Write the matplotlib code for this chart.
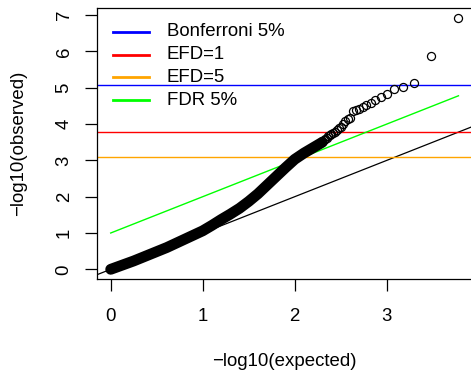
import matplotlib
matplotlib.use('Agg')
import matplotlib.pyplot as plt
from matplotlib.lines import Line2D

plt.rcParams['font.family'] = ['Liberation Sans', 'DejaVu Sans']

# Upper tail: individually visible points, -log10(expected) vs -log10(observed)
tail_expected = [3.778, 3.477, 3.301, 3.176, 3.079, 3.000, 2.933, 2.875, 2.824, 2.778,
                 2.737, 2.699, 2.664, 2.632, 2.602, 2.574, 2.548, 2.523, 2.500, 2.477,
                 2.456, 2.436, 2.417, 2.398, 2.380, 2.363, 2.347, 2.331, 2.316, 2.301]
tail_observed = [6.91, 5.88, 5.12, 5.01, 4.96, 4.83, 4.74, 4.66, 4.59, 4.53,
                 4.46, 4.41, 4.38, 4.35, 4.17, 4.14, 4.08, 3.99, 3.93, 3.88,
                 3.83, 3.79, 3.76, 3.73, 3.70, 3.66, 3.63, 3.60, 3.57, 3.54]

# Dense bulk of overlapping points, traced as a band
bulk_expected = [2.30, 2.20, 2.10, 2.00, 1.90, 1.80, 1.70, 1.60, 1.50, 1.40, 1.30,
                 1.20, 1.10, 1.00, 0.61, 0.25, 0.00]
bulk_observed = [3.50, 3.35, 3.20, 3.03, 2.80, 2.56, 2.32, 2.08, 1.87, 1.68, 1.52,
                 1.37, 1.21, 1.06, 0.60, 0.23, 0.00]

# Threshold lines
threshold_labels = ['Bonferroni 5%', 'EFD=1', 'EFD=5']
threshold_values = [5.08, 3.78, 3.08]
threshold_colors = ['blue', 'red', '#FFA500']

# FDR 5% line segment
fdr_x = [0.0, 3.78]
fdr_y = [1.0, 4.78]
fdr_label = 'FDR 5%'
fdr_color = '#00FF00'

x_ticks = [0, 1, 2, 3]
y_ticks = [0, 1, 2, 3, 4, 5, 6, 7]

W, H = 471, 371
fig = plt.figure(figsize=(W / 100, H / 100), dpi=100)
L, R, T, B = 97, 472, 8, 279
ax = fig.add_axes([L / W, (H - B) / H, (R - L) / W, (B - T) / H])
ax.set_xlim(-0.1489, 3.927)
ax.set_ylim(-0.267, 7.198)

FS = 13.4

# identity line
ax.plot([-1, 5], [-1, 5], color='black', lw=0.9, zorder=2)
# thresholds
for v, c in zip(threshold_values, threshold_colors):
    ax.axhline(v, color=c, lw=1.0, zorder=2)
ax.plot(fdr_x, fdr_y, color=fdr_color, lw=1.0, zorder=2)

# dense band of points
ax.plot(bulk_expected, bulk_observed, color='black', lw=7.8,
        solid_capstyle='round', solid_joinstyle='round', zorder=3)
# individual points
ax.plot(tail_expected, tail_observed, linestyle='none', marker='o', ms=5.8,
        mfc='none', mec='black', mew=0.9, zorder=4)

ax.set_xticks(x_ticks)
ax.set_yticks(y_ticks)
ax.set_xticklabels([str(t) for t in x_ticks])
ax.set_yticklabels([str(t) for t in y_ticks], rotation=90, va='center')
ax.tick_params(axis='both', direction='out', length=8.5, width=0.9, labelsize=FS)
ax.tick_params(axis='x', pad=12.5)
ax.tick_params(axis='y', pad=9)
for s in ax.spines.values():
    s.set_linewidth(0.9)

fig.text(284.5 / W, 1 - 361.5 / H, '\u2212log10(expected)', ha='center', va='center', fontsize=FS)
fig.text(18.5 / W, 1 - 143.5 / H, '\u2212log10(observed)', ha='center', va='center',
         rotation=90, fontsize=FS)

# legend (no box)
leg_labels = threshold_labels + [fdr_label]
leg_colors = threshold_colors + [fdr_color]
rows = [31.7, 54.5, 77.3, 100.1]
for lab, col, yy in zip(leg_labels, leg_colors, rows):
    fig.add_artist(Line2D([113 / W, 149 / W], [1 - yy / H, 1 - yy / H], color=col, lw=2.0))
    fig.text(167 / W, 1 - yy / H, lab, ha='left', va='center', fontsize=FS)

fig.savefig('out.png', dpi=100)
